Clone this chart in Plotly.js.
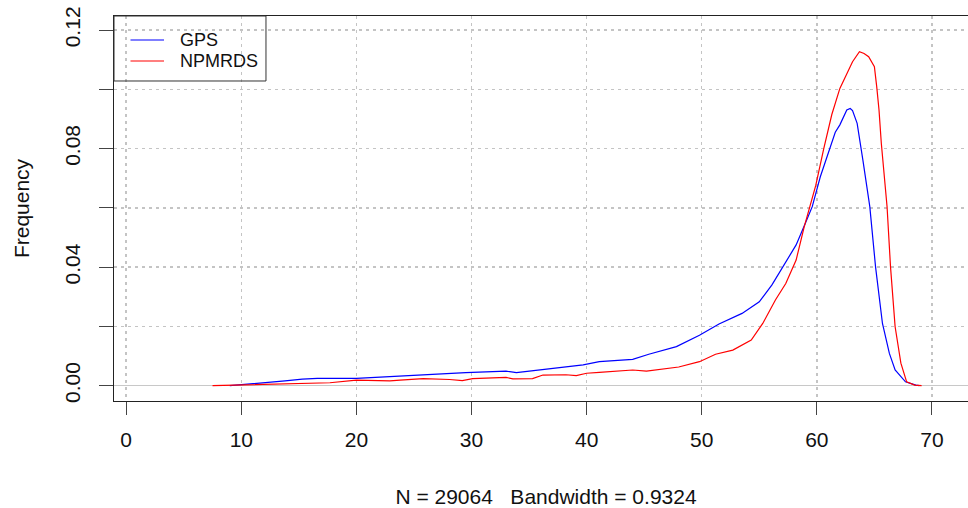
<!DOCTYPE html>
<html>
<head>
<meta charset="utf-8">
<script src="https://cdn.plot.ly/plotly-3.0.1.min.js"></script>
<style>
html,body{margin:0;padding:0;overflow:hidden;background:#fff;width:968px;height:508px;}
#chart{width:978px;height:508px;}
</style>
</head>
<body>
<div id="chart"></div>
<script>
// Density curves (x = speed, y = density)
const gpsX = [9.0,10.0,11.5,13.8,15.3,16.6,20.0,22.9,24.9,26.6,29.5,33.0,33.9,36.8,39.7,41.1,44.0,45.4,47.8,49.8,51.5,53.5,55.0,56.1,57.0,58.2,59.0,59.6,60.3,61.1,61.6,62.0,62.6,62.9,63.1,63.5,63.8,64.0,64.6,65.1,65.7,66.3,66.8,67.7,68.6,68.9];
const gpsY = [0,0.0003,0.001,0.0016,0.0022,0.0025,0.0025,0.003,0.0035,0.0038,0.0044,0.0049,0.0044,0.0056,0.007,0.0081,0.0089,0.0106,0.0132,0.017,0.0208,0.0244,0.0283,0.034,0.0396,0.0475,0.0548,0.0604,0.0705,0.080,0.0855,0.088,0.093,0.0935,0.0928,0.0885,0.0818,0.0761,0.0604,0.0401,0.021,0.0109,0.0053,0.0013,0.0002,0];
const npmX = [7.5,9.5,11.6,15.1,17.7,20.0,22.9,23.8,25.8,28.1,29.2,30.1,33.0,33.6,35.3,36.2,38.2,39.1,40.0,41.1,42.8,44.0,45.2,46.9,48.0,49.8,51.2,52.7,54.3,55.3,56.4,57.3,58.2,58.9,59.4,59.9,60.6,61.3,62.0,62.5,63.1,63.7,64.1,64.5,65.0,65.2,65.4,65.6,65.75,66.1,66.4,66.8,67.3,67.8,68.5,69.1];
const npmY = [0,0.0002,0.0005,0.0007,0.001,0.0019,0.0016,0.0019,0.0024,0.0021,0.0017,0.0024,0.0028,0.0023,0.0024,0.0036,0.0037,0.0034,0.0042,0.0045,0.0049,0.0053,0.0049,0.0056,0.0063,0.0081,0.0106,0.012,0.0154,0.021,0.0289,0.0345,0.0424,0.0536,0.061,0.0675,0.080,0.0915,0.1003,0.1043,0.1093,0.1127,0.1121,0.111,0.1076,0.1009,0.093,0.0818,0.0745,0.0604,0.0401,0.0199,0.0076,0.0013,0.0002,0];

const seriesNames = ["GPS","NPMRDS"];
const seriesColors = ["#0000ff","#ff0000"];
const xTickVals = [0,10,20,30,40,50,60,70];
const xTickText = ["0","10","20","30","40","50","60","70"];
const yTickVals = [0,0.02,0.04,0.06,0.08,0.10,0.12];
const yTickText = ["0.00","","0.04","","0.08","","0.12"];
const xTitle = "N = 29064   Bandwidth = 0.9324";
const yTitle = "Frequency";

const FONT = "Liberation Sans, Arial, sans-serif";

const traces = [
  {x: gpsX, y: gpsY, type: "scatter", mode: "lines", name: seriesNames[0],
   line: {color: seriesColors[0], width: 1.2}},
  {x: npmX, y: npmY, type: "scatter", mode: "lines", name: seriesNames[1],
   line: {color: seriesColors[1], width: 1.2}}
];

// Legend drawn R-style (box, line keys, labels)
const legY = [0.9377, 0.8831];
const shapes = [
  {type: "rect", xref: "paper", yref: "paper", x0: 0, x1: 0.1759, y0: 0.8312, y1: 1,
   line: {color: "#333", width: 1}, fillcolor: "rgba(0,0,0,0)", layer: "above"}
];
const annotations = [];
seriesNames.forEach((nm, i) => {
  shapes.push({type: "line", xref: "paper", yref: "paper", x0: 0.0191, x1: 0.0579,
    y0: legY[i], y1: legY[i], line: {color: seriesColors[i], width: 1.2}, layer: "above"});
  annotations.push({xref: "paper", yref: "paper", x: 0.0741, y: legY[i], text: nm,
    showarrow: false, xanchor: "left", yanchor: "middle",
    font: {family: FONT, size: 18, color: "#111"}});
});

const layout = {
  width: 978, height: 508,
  margin: {l: 114, r: 0, t: 16, b: 107, pad: 0},
  paper_bgcolor: "#fff", plot_bgcolor: "#fff",
  font: {family: FONT, size: 21, color: "#111"},
  showlegend: false,
  shapes: shapes,
  annotations: annotations,
  xaxis: {
    range: [-1.06, 74.0], autorange: false,
    tickmode: "array", tickvals: xTickVals, ticktext: xTickText,
    ticks: "outside", ticklen: 13, tickwidth: 1, tickcolor: "#444",
    ticklabelstandoff: 7,
    showline: true, mirror: true, linecolor: "#222", linewidth: 1,
    showgrid: true, gridcolor: "#c4c4c4", gridwidth: 1.5, griddash: "3px,4px",
    zeroline: false,
    title: {text: xTitle, font: {family: FONT, size: 21, color: "#111"}, standoff: 41}
  },
  yaxis: {
    range: [-0.00516, 0.12473], autorange: false,
    tickmode: "array", tickvals: yTickVals, ticktext: yTickText,
    ticks: "outside", ticklen: 14, tickwidth: 1, tickcolor: "#444",
    tickangle: -90, ticklabelstandoff: 11,
    showline: true, mirror: true, linecolor: "#222", linewidth: 1,
    showgrid: true, gridcolor: "#c4c4c4", gridwidth: 1.5, griddash: "3px,4px",
    zeroline: true, zerolinecolor: "#c8c8c8", zerolinewidth: 1.2,
    title: {text: yTitle, font: {family: FONT, size: 21, color: "#111"}, standoff: 25}
  }
};

Plotly.newPlot("chart", traces, layout, {displayModeBar: false, staticPlot: true});
</script>
</body>
</html>
